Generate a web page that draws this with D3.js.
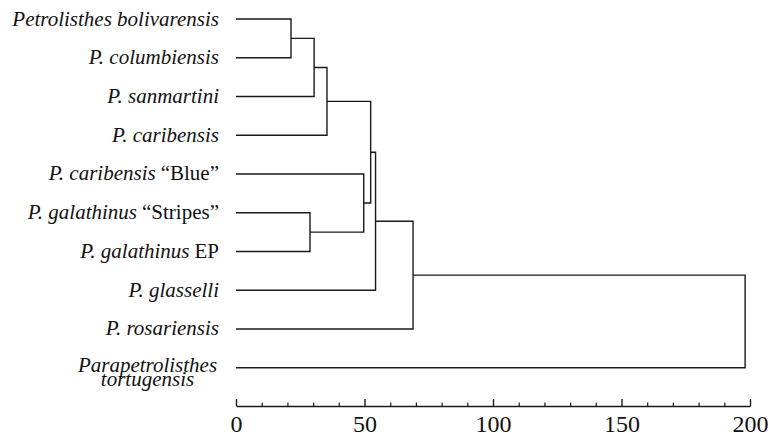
<!DOCTYPE html>
<html>
<head>
<meta charset="utf-8">
<script src="https://cdn.jsdelivr.net/npm/d3@7/dist/d3.min.js"></script>
<style>
  html, body { margin: 0; padding: 0; background: #fff; }
  svg { display: block; }
  .serif { font-family: "Liberation Serif", "Times New Roman", serif; }
</style>
</head>
<body>
<svg id="chart" width="768" height="433"></svg>
<script>
// Leaf taxa (top to bottom): italic part, roman suffix
const leafItalic = [
  "Petrolisthes bolivarensis",
  "P. columbiensis",
  "P. sanmartini",
  "P. caribensis",
  "P. caribensis",
  "P. galathinus",
  "P. galathinus",
  "P. glasselli",
  "P. rosariensis",
  "Parapetrolisthes tortugensis"
];
const leafSuffix = ["", "", "", "", "\u201CBlue\u201D", "\u201CStripes\u201D", "EP", "", "", ""];

// Linkage (scipy style): cluster n+i joins mergeA[i] and mergeB[i] at mergeHeight[i]
const mergeA = [0, 10, 11, 5, 4, 12, 15, 16, 17];
const mergeB = [1, 2, 3, 6, 13, 14, 7, 8, 9];
const mergeHeight = [21.4, 30.4, 35.4, 28.8, 49.7, 52.4, 54.3, 68.9, 198.1];

const majorTicks = [0, 50, 100, 150, 200];
const minorTicks = [10, 20, 30, 40, 60, 70, 80, 90, 110, 120, 130, 140, 160, 170, 180, 190];

const svg = d3.select("#chart");
const n = leafItalic.length;
const leafIdx = d3.range(n);

const x = d3.scaleLinear().domain([0, 200]).range([236, 750]);
const y = d3.scalePoint().domain(leafIdx).range([19, 367.7]);

// node positions
const nodeY = leafIdx.map(i => y(i));
const nodeH = leafIdx.map(() => 0);
mergeA.forEach((a, i) => {
  const b = mergeB[i];
  nodeY.push((nodeY[a] + nodeY[b]) / 2);
  nodeH.push(mergeHeight[i]);
});

const stroke = "#1a1a1a";
const g = svg.append("g").attr("fill", "none").attr("stroke", stroke).attr("stroke-width", 1.4);

mergeA.forEach((a, i) => {
  const b = mergeB[i];
  const h = mergeHeight[i];
  const p = d3.path();
  p.moveTo(x(nodeH[a]), nodeY[a]);
  p.lineTo(x(h), nodeY[a]);
  p.lineTo(x(h), nodeY[b]);
  p.lineTo(x(nodeH[b]), nodeY[b]);
  g.append("path").attr("d", p.toString());
});

// Labels
const labels = svg.append("g")
  .attr("class", "serif")
  .style("font-size", "21px")
  .attr("fill", "#111");

leafIdx.forEach(i => {
  if (i === n - 1) {
    const words = leafItalic[i].split(" ");
    const t = labels.append("text")
      .attr("text-anchor", "middle")
      .style("font-style", "italic");
    t.append("tspan").attr("x", 147.5).attr("y", y(i) + 4.5).text(words[0]);
    t.append("tspan").attr("x", 147.5).attr("y", y(i) + 18.5).text(words[1]);
  } else {
    const t = labels.append("text")
      .attr("x", 219)
      .attr("y", y(i) + 6.5)
      .attr("text-anchor", "end");
    t.append("tspan").style("font-style", "italic").text(leafItalic[i]);
    if (leafSuffix[i]) t.append("tspan").attr("dx", 5).style("font-style", "normal").text(leafSuffix[i]);
  }
});

// Axis
const axisY = 406;
const axisMajor = d3.axisBottom(x).tickValues(majorTicks).tickSize(-7).tickSizeOuter(0).tickPadding(9).tickFormat(d3.format("d"));
const ax = svg.append("g").attr("transform", `translate(0,${axisY})`).call(axisMajor);
ax.attr("font-family", null).attr("font-size", null).attr("class", "serif");
ax.select(".domain").attr("stroke", stroke).attr("stroke-width", 1.4);
ax.selectAll(".tick line").attr("stroke", stroke).attr("stroke-width", 1.4);
ax.selectAll(".tick text")
  .style("font-size", "24px")
  .attr("fill", "#111");

const axisMinor = d3.axisBottom(x).tickValues(minorTicks).tickSize(-3.5).tickFormat("");
const axm = svg.append("g").attr("transform", `translate(0,${axisY})`).call(axisMinor);
axm.select(".domain").remove();
axm.selectAll(".tick line").attr("stroke", stroke).attr("stroke-width", 1.2);
</script>
</body>
</html>
